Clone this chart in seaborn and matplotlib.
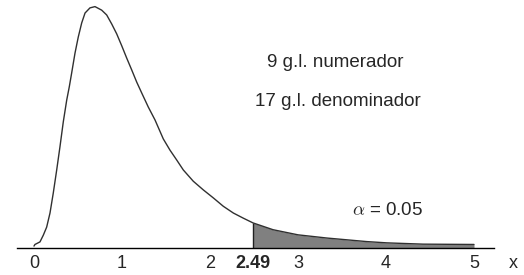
import numpy as np
import pandas as pd
import matplotlib
matplotlib.use("Agg")
import matplotlib.pyplot as plt
from matplotlib import transforms
import seaborn as sns

x_vals = [0.0, 0.011, 0.068, 0.106, 0.144, 0.182, 0.219, 0.258, 0.295, 0.333,
          0.372, 0.401, 0.428, 0.466, 0.503, 0.542, 0.580, 0.636, 0.693, 0.769,
          0.826, 0.883, 0.940, 0.997, 1.053, 1.110, 1.167, 1.224, 1.299, 1.375,
          1.469, 1.545, 1.622, 1.697, 1.810, 1.924, 2.038, 2.151, 2.265, 2.378,
          2.490, 2.716, 3.000, 3.330, 3.780, 4.010, 4.420, 5.000]
dens = [0.006, 0.011, 0.019, 0.040, 0.065, 0.109, 0.171, 0.243, 0.315, 0.393,
        0.461, 0.502, 0.545, 0.607, 0.657, 0.701, 0.732, 0.748, 0.752, 0.741,
        0.726, 0.698, 0.667, 0.630, 0.592, 0.555, 0.517, 0.483, 0.439, 0.399,
        0.340, 0.305, 0.274, 0.243, 0.208, 0.181, 0.156, 0.130, 0.109, 0.093,
        0.078, 0.057, 0.041, 0.031, 0.020, 0.016, 0.012, 0.011]
ticks = [0, 1, 2, 3, 4, 5]
critico = 2.49
alpha_txt = 0.05
gl_num, gl_den = 9, 17

df = pd.DataFrame({"x": x_vals, "f": dens})
cola = df[df["x"] >= critico]

sns.set_style("white")
plt.rcParams["font.family"] = ["Liberation Sans", "DejaVu Sans"]
plt.rcParams["mathtext.fontset"] = "cm"

fig = plt.figure(figsize=(5.24, 2.75), dpi=100)
ax = fig.add_axes([17 / 524, 27 / 275, 477 / 524, 248 / 275])

ax.fill_between(cola["x"], cola["f"], color="#808080", lw=0)
ax.vlines(critico, 0, cola["f"].iloc[0], color="#202020", lw=1)
sns.lineplot(data=df, x="x", y="f", ax=ax, color="#303030", lw=1)

ax.set_xlim(-0.193, 5.227)
ax.set_ylim(0, 248 / 321)
sns.despine(ax=ax, left=True)
ax.spines["bottom"].set_color("black")
ax.spines["bottom"].set_linewidth(1)
ax.set_yticks([])
ax.set_xticks(ticks)
ax.set_xticklabels([str(t) for t in ticks], fontsize=13)
ax.tick_params(axis="x", direction="out", length=4, width=1, color="black", pad=1)
ax.set_xlabel("")
ax.set_ylabel("")

trans = transforms.blended_transform_factory(ax.transData, ax.transAxes)
ax.text(critico, -0.03, f"{critico}", transform=trans, ha="center", va="top",
        fontsize=13, fontweight="bold")
ax.text(1.031, -0.03, "x", transform=ax.transAxes, ha="left", va="top", fontsize=13)

ax.text(3.42, 0.579, f"{gl_num} g.l. numerador",
        ha="center", va="center", fontsize=13.5)
ax.text(3.45, 0.455, f"{gl_den} g.l. denominador",
        ha="center", va="center", fontsize=13.5)
ax.text(4.02, 0.118, rf"$\alpha$ = {alpha_txt}",
        ha="center", va="center", fontsize=13.5)

fig.savefig("out.png", dpi=100)
